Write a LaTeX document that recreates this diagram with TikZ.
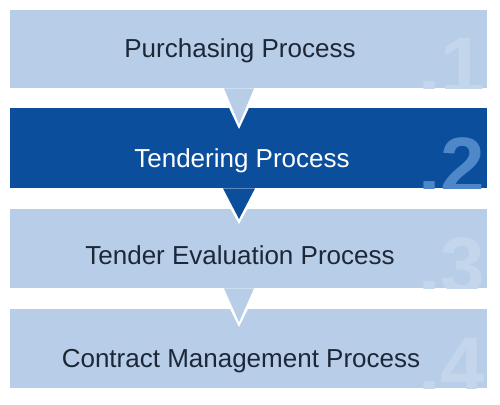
\documentclass[tikz,border=0pt]{standalone}
\usepackage{fontspec}
\setmainfont{Liberation Sans}
\definecolor{lightbox}{HTML}{B8CEE8}
\definecolor{darkbox}{HTML}{0B4F9C}
\definecolor{txtdark}{HTML}{1C2738}
\definecolor{numlight}{HTML}{C3D6EC}
\definecolor{numdark}{HTML}{4F88C8}
\begin{document}
\begin{tikzpicture}[x=1pt,y=-1pt,
  stepbox/.style={rectangle, inner sep=0pt, minimum width=477pt, anchor=north west},
  lightstep/.style={stepbox, fill=lightbox},
  darkstep/.style={stepbox, fill=darkbox},
  label/.style={anchor=base, inner sep=0pt, font=\fontsize{26}{26}\selectfont},
  numtxt/.style={anchor=base east, inner sep=0pt, font=\fontsize{80}{80}\selectfont\bfseries},
  arrowlight/.style={fill=lightbox},
  arrowdark/.style={fill=darkbox},
  arrowrim/.style={fill=white}
]
\useasboundingbox (0,0) rectangle (500,404);
\fill[white] (0,0) rectangle (500,404);

% step boxes
\node[lightstep, minimum height=78pt] (b1) at (10,10) {};
\node[darkstep, minimum height=80pt] (b2) at (10,108) {};
\node[lightstep, minimum height=79pt] (b3) at (10,209) {};
\node[lightstep, minimum height=79pt] (b4) at (10,309) {};

% step numbers, cut by the box bottoms
\begin{scope}
\clip (b1.north west) rectangle (b1.south east);
\node[numtxt, text=numlight] (n1) at ([xshift=-2pt,yshift=-5pt]b1.south east) {.1};
\end{scope}
\begin{scope}
\clip (b2.north west) rectangle (b2.south east);
\node[numtxt, text=numdark] (n2) at ([xshift=-2pt,yshift=-5pt]b2.south east) {.2};
\end{scope}
\begin{scope}
\clip (b3.north west) rectangle (b3.south east);
\node[numtxt, text=numlight] (n3) at ([xshift=-2pt,yshift=-5pt]b3.south east) {.3};
\end{scope}
\begin{scope}
\clip (b4.north west) rectangle (b4.south east);
\node[numtxt, text=numlight] (n4) at ([xshift=-2pt,yshift=-5pt]b4.south east) {.4};
\end{scope}

% texts
\node[label, text=txtdark] (t1) at (240,57) {Purchasing Process};
\node[label, text=white]   (t2) at (242,167) {Tendering Process};
\node[label, text=txtdark] (t3) at (240,264) {Tender Evaluation Process};
\node[label, text=txtdark] (t4) at (241,367) {Contract Management Process};

% pointers
\coordinate (p1) at (239,124);
\coordinate (p2) at (239,219);
\coordinate (p3) at (239,322);
\path[arrowrim]  (b1.south -| 220,0) -- ([yshift=-5pt]p1) -- (b1.south -| 258,0) -- cycle;
\path[arrowlight](b1.south -| 224,0) -- (p1) -- (b1.south -| 254,0) -- cycle;
\path[arrowrim]  (b2.south -| 219,0) -- ([yshift=-5pt]p2) -- (b2.south -| 259,0) -- cycle;
\path[arrowdark] (b2.south -| 223,0) -- (p2) -- (b2.south -| 255,0) -- cycle;
\path[arrowrim]  (b3.south -| 220,0) -- ([yshift=-5pt]p3) -- (b3.south -| 258,0) -- cycle;
\path[arrowlight](b3.south -| 224,0) -- (p3) -- (b3.south -| 254,0) -- cycle;
\end{tikzpicture}
\end{document}
